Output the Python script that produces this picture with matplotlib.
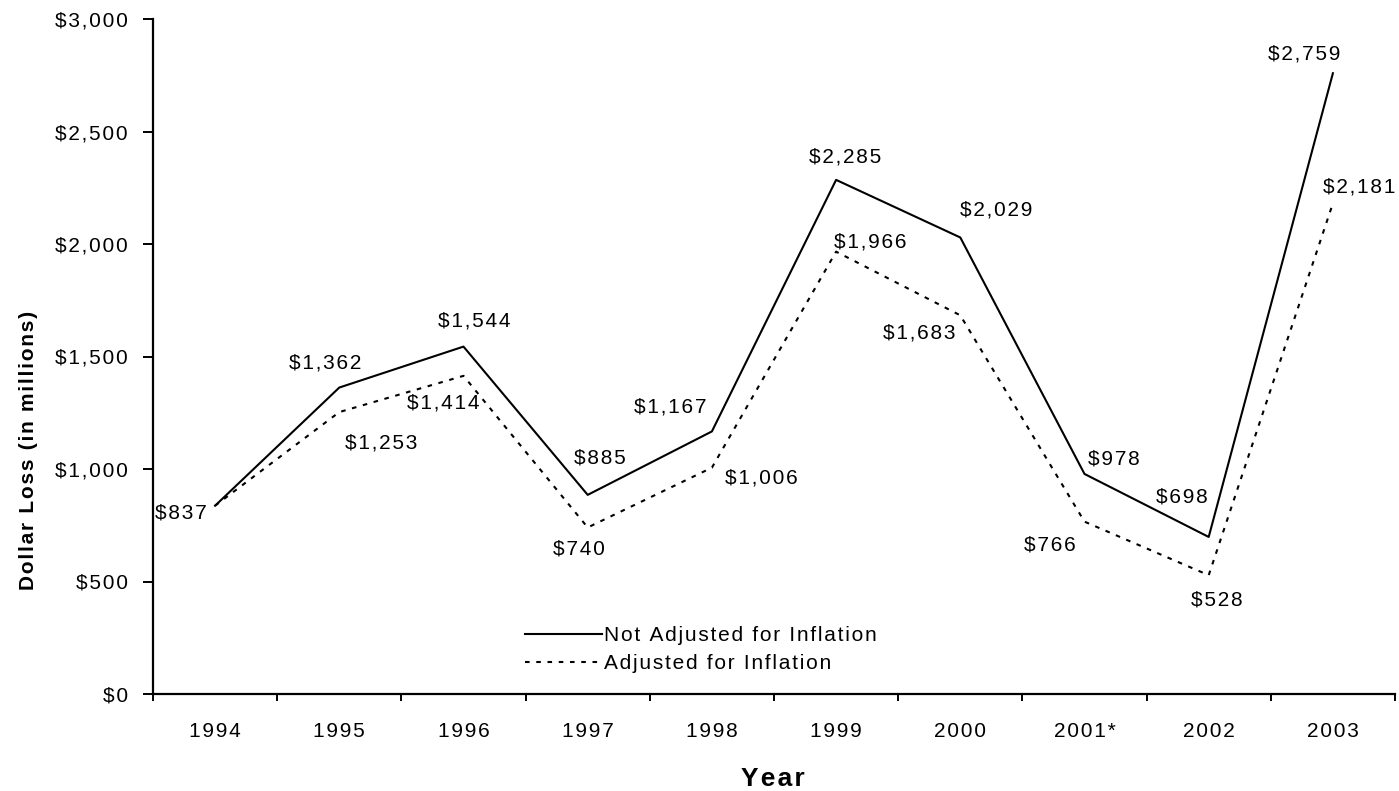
import numpy as np
import matplotlib.pyplot as plt
from matplotlib.ticker import FixedLocator, NullFormatter

plt.rcParams['font.family'] = ['Liberation Sans', 'DejaVu Sans']

# Data
years = ['1994', '1995', '1996', '1997', '1998', '1999', '2000', '2001*', '2002', '2003']
not_adjusted = [837, 1362, 1544, 885, 1167, 2285, 2029, 978, 698, 2759]
adjusted = [837, 1253, 1414, 740, 1006, 1966, 1683, 766, 528, 2181]
yticks = [0, 500, 1000, 1500, 2000, 2500, 3000]

# where each value label sits relative to its point (pixels, +y is up)
na_off = [(-34, -7), (-14, 25), (11, 26), (12, 37), (-42, 24),
          (9, 23), (36, 27), (29, 15), (-27, 40), (-29, 19)]
adj_off = [None, (42, -31), (-20, -27), (-9, -22), (49, -10),
           (34, 10), (-41, -18), (-35, -23), (8, -25), (26, 16)]


def sp(s):
    # mimic the loose letter spacing of the original
    return '\u200a'.join(s)


def money(v):
    return sp('${:,}'.format(v))


fig = plt.figure(figsize=(13.99, 7.91), dpi=100)
ax = fig.add_axes([153/1399, 97/791, 1242/1399, 675/791])

x = np.arange(len(years))
ax.plot(x, not_adjusted, color='black', lw=1.5, label=sp('Not Adjusted for Inflation'))
ax.plot(x, adjusted, color='black', lw=1.5, ls=(0, (2.2, 3.2)), label=sp('Adjusted for Inflation'))

fs = 15
for i, v in enumerate(not_adjusted):
    ax.annotate(money(v), (x[i], v), xytext=na_off[i], textcoords='offset pixels',
                ha='center', va='center', fontsize=fs)
for i, v in enumerate(adjusted):
    if adj_off[i] is None:
        continue
    ax.annotate(money(v), (x[i], v), xytext=adj_off[i], textcoords='offset pixels',
                ha='center', va='center', fontsize=fs, annotation_clip=False)

ax.set_xlim(-0.5, len(years) - 0.5)
ax.set_ylim(0, 3000)

# ticks between categories, labels centred
ax.xaxis.set_major_locator(FixedLocator(np.arange(len(years) + 1) - 0.5))
ax.xaxis.set_major_formatter(NullFormatter())
ax.xaxis.set_minor_locator(FixedLocator(x))
ax.set_xticklabels([sp(y) for y in years], minor=True, fontsize=fs)
ax.tick_params(axis='x', which='major', direction='out', length=5, width=1.4)
ax.tick_params(axis='x', which='minor', length=0, pad=20.5)

ax.set_yticks(yticks)
ax.set_yticklabels([money(v) for v in yticks], fontsize=fs)
ax.tick_params(axis='y', direction='out', length=7, width=1.4, pad=11)

for s in ['top', 'right']:
    ax.spines[s].set_visible(False)
for s in ['left', 'bottom']:
    ax.spines[s].set_linewidth(1.6)

ax.set_ylabel(sp('Dollar Loss (in millions)'), fontsize=15, fontweight='bold')
ax.yaxis.set_label_coords(29/1399, 1 - 450/791, transform=fig.transFigure)
ax.set_xlabel(sp('Year'), fontsize=19, fontweight='bold')
ax.xaxis.set_label_coords(773/1399, 1 - 779/791, transform=fig.transFigure)
ax.xaxis.label.set_va('center')
ax.yaxis.label.set_va('center')

ax.legend(loc='upper left', bbox_to_anchor=(525/1399, 1 - 626/791),
          bbox_transform=fig.transFigure, frameon=False, fontsize=fs,
          handlelength=3.7, handletextpad=0.1, labelspacing=0.45,
          borderpad=0, borderaxespad=0)

fig.savefig('out.png', dpi=100)
